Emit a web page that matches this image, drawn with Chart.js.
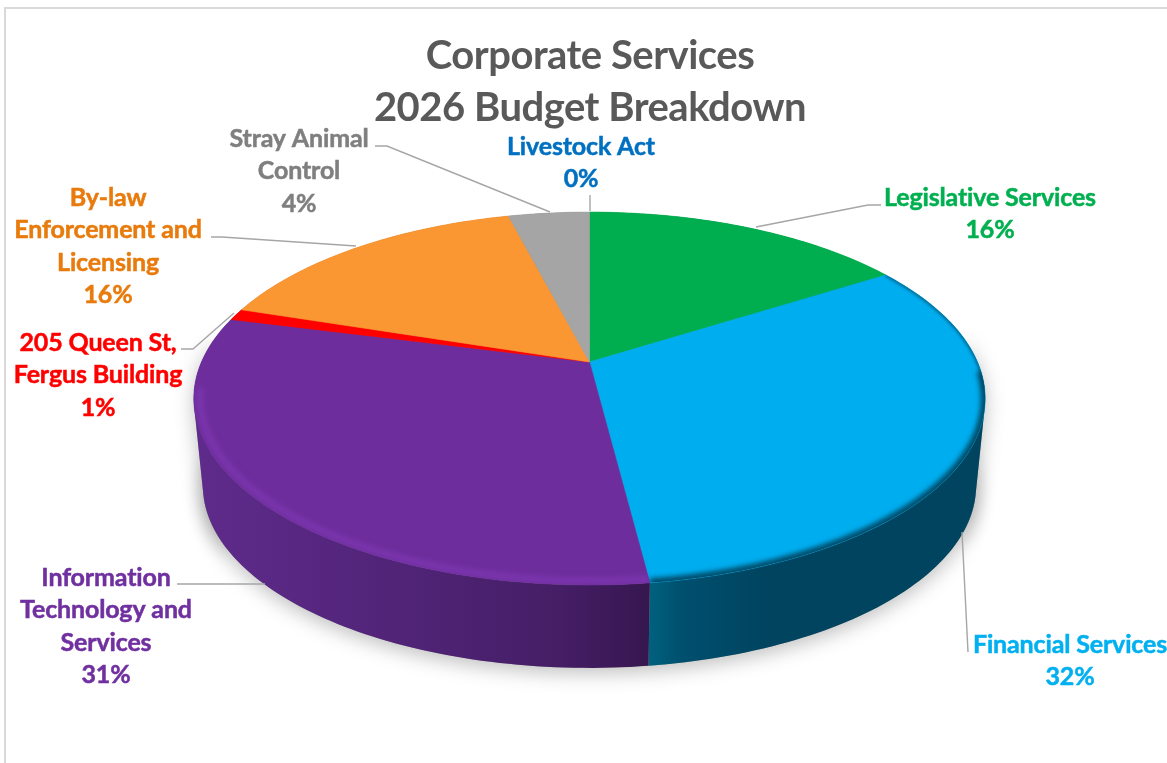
<!DOCTYPE html>
<html>
<head>
<meta charset="utf-8">
<title>Corporate Services 2026 Budget Breakdown</title>
<script src="https://cdn.jsdelivr.net/npm/chart.js@4"></script>
<style>
  html, body { margin: 0; padding: 0; background: #fff; overflow: hidden; }
  canvas { display: block; }
</style>
</head>
<body>
<canvas id="graficoPizza" width="1167" height="763"></canvas>
<script>
// series
const categorias = ['Legislative Services', 'Financial Services', 'Information Technology and Services', '205 Queen St, Fergus Building', 'By-law Enforcement and Licensing', 'Stray Animal Control', 'Livestock Act'];
const valores = [16, 32, 31, 1, 16, 4, 0];
const linhasTitulo = ['Corporate Services', '2026 Budget Breakdown'];

// how each category name wraps over its label
const quebras = [
    ['Legislative Services'],
    ['Financial Services'],
    ['Information', 'Technology and', 'Services'],
    ['205 Queen St,', 'Fergus Building'],
    ['By-law', 'Enforcement and', 'Licensing'],
    ['Stray Animal', 'Control'],
    ['Livestock Act']
];

// styles
const coresFatia = ['#00ae4f', '#00adef', '#6e2d9c', '#ff0000', '#fb9733', '#a5a5a5', '#0070c0'];
const coresTexto = ['#00b050', '#00b0f0', '#7030a0', '#ff0000', '#e87b0c', '#7f7f7f', '#0070c0'];
const paradasLateral = [
    [[0, '#007a40'], [1, '#007a40']],
    [[0, '#00617f'], [0.1, '#004f6e'], [0.35, '#00445f'], [1, '#00445f']],
    [[0, '#5f2b8c'], [0.5, '#4f2375'], [0.8, '#451e66'], [1, '#36174f']],
    [[0, '#a00000'], [1, '#a00000']],
    [[0, '#a8601c'], [1, '#a8601c']],
    [[0, '#6a6a6a'], [1, '#6a6a6a']],
    [[0, '#004a80'], [1, '#004a80']]
];

// label anchors: centre x, centre y of the first line
const posRotulos = [[990, 197.5], [1070, 644.5], [106, 577.5], [98, 342.5], [108, 197.5], [299, 138.5], [581, 146.5]];
const entreLinhas = 32.5;
const guias = [
    [[881, 205], [868, 205], [756, 227]],
    [[968, 652], [962, 532]],
    [[177, 584], [265, 584]],
    [[181, 349], [193, 349], [234, 313]],
    [[211, 237], [222, 237], [356, 246]],
    [[375, 146], [387, 146], [550, 212]],
    [[590, 195], [590, 211]]
];

// disc geometry on screen, seen in perspective from above
const centroX = 589.5, centroY = 362, raioX = 388, raioY = 179.3, persp = 0.196;
const escalaBase = 0.977, centroBaseY = 450;

function pontoTopo(u, v) {
    const w = 1 - persp * v;
    return [centroX + raioX * u / w, centroY + raioY * v / w];
}

function pontoBase(u, v) {
    const w = 1 - persp * v;
    return [centroX + escalaBase * raioX * u / w, centroBaseY + escalaBase * raioY * v / w];
}

function amostrarArco(inicio, fim, projetar, fator) {
    const n = Math.max(2, Math.ceil((fim - inicio) / 0.02));
    const pts = [];
    for (let i = 0; i <= n; i++) {
        const a = inicio + (fim - inicio) * i / n;
        pts.push(projetar(Math.cos(a) * (fator || 1), Math.sin(a) * (fator || 1)));
    }
    return pts;
}

function tracar(ctx, pts) {
    pts.forEach((p, i) => i ? ctx.lineTo(p[0], p[1]) : ctx.moveTo(p[0], p[1]));
}

// strip of quads between the two rims, all wound the same way so one fill covers it without seams
function tiraLateral(ctx, inicio, fim) {
    const topo = amostrarArco(inicio, fim, pontoTopo);
    const base = amostrarArco(inicio, fim, pontoBase);
    ctx.beginPath();
    for (let k = 0; k < topo.length - 1; k++) {
        const quad = [topo[k], topo[k + 1], base[k + 1], base[k]];
        let area = 0;
        quad.forEach((p, j) => {
            const q = quad[(j + 1) % 4];
            area += p[0] * q[1] - q[0] * p[1];
        });
        if (area < 0) quad.reverse();
        tracar(ctx, quad);
        ctx.closePath();
    }
    return topo.concat(base).map(p => p[0]);
}

function desenharSombra(ctx) {
    ctx.save();
    ctx.shadowColor = 'rgba(0,0,0,0.26)';
    ctx.shadowBlur = 20;
    ctx.shadowOffsetY = 5;
    ctx.fillStyle = '#999';
    ctx.beginPath();
    tracar(ctx, amostrarArco(0, Math.PI * 2, pontoBase));
    ctx.closePath();
    ctx.fill();
    tiraLateral(ctx, -0.15, 0.5);
    ctx.fill();
    tiraLateral(ctx, 2.6, 3.3);
    ctx.fill();
    ctx.restore();
}

function desenharLateral(ctx, arco, i) {
    if (arco.endAngle - arco.startAngle < 0.001) return;
    const xs = tiraLateral(ctx, arco.startAngle, arco.endAngle);
    const grad = ctx.createLinearGradient(Math.min(...xs), 0, Math.max(...xs), 0);
    paradasLateral[i].forEach(p => grad.addColorStop(p[0], p[1]));
    ctx.fillStyle = grad;
    ctx.fill();
}

function caminhoFatia(ctx, arco) {
    ctx.beginPath();
    ctx.moveTo(centroX, centroY);
    amostrarArco(arco.startAngle, arco.endAngle, pontoTopo).forEach(p => ctx.lineTo(p[0], p[1]));
    ctx.closePath();
}

// soft rim on the top face: light on the purple slice, dark on the blue one
function desenharBisel(ctx, arco, inicio, fim, cor, largura, desfoque, fator) {
    ctx.save();
    caminhoFatia(ctx, arco);
    ctx.clip();
    ctx.filter = `blur(${desfoque}px)`;
    ctx.strokeStyle = cor;
    ctx.lineWidth = largura;
    ctx.beginPath();
    tracar(ctx, amostrarArco(inicio, fim, pontoTopo, fator));
    ctx.stroke();
    ctx.restore();
}

const pluginPizza3d = {
    id: 'pizza3d',
    beforeDraw(chart) {
        const ctx = chart.ctx;
        ctx.letterSpacing = '-0.5px';
        ctx.save();
        ctx.strokeStyle = '#d9d9d9';
        ctx.lineWidth = 2;
        ctx.beginPath();
        ctx.moveTo(5, 763);
        ctx.lineTo(5, 8);
        ctx.lineTo(1167, 8);
        ctx.stroke();
        ctx.restore();
    },
    beforeDatasetsDraw(chart) {
        const ctx = chart.ctx;
        const arcos = chart.getDatasetMeta(0).data;
        ctx.save();
        desenharSombra(ctx);
        arcos.forEach((arco, i) => desenharLateral(ctx, arco, i));
        arcos.forEach(arco => {
            if (arco.endAngle - arco.startAngle < 0.001) return;
            caminhoFatia(ctx, arco);
            ctx.fillStyle = arco.options.backgroundColor;
            ctx.strokeStyle = arco.options.backgroundColor;
            ctx.lineWidth = 0.6;
            ctx.fill();
            ctx.stroke();
        });
        desenharBisel(ctx, arcos[1], arcos[1].startAngle, 0.15, 'rgba(0,75,104,0.7)', 3.5, 1.4, 1);
        desenharBisel(ctx, arcos[1], 0.05, arcos[1].endAngle, '#004b68', 9, 2.6, 1);
        desenharBisel(ctx, arcos[2], arcos[2].startAngle, 3.0, '#7a35ad', 7, 2.6, 0.985);
        ctx.restore();
        return false; // slices are fully painted above
    },
    afterDraw(chart) {
        const ctx = chart.ctx;
        ctx.save();
        ctx.strokeStyle = '#a6a6a6';
        ctx.lineWidth = 1.4;
        guias.forEach(g => {
            ctx.beginPath();
            tracar(ctx, g);
            ctx.stroke();
        });
        ctx.letterSpacing = '-0.15px';
        ctx.font = 'bold 25px Lato';
        ctx.textAlign = 'center';
        ctx.textBaseline = 'middle';
        ctx.lineWidth = 0.5;
        categorias.forEach((nome, i) => {
            const linhas = quebras[i].concat(valores[i] + '%');
            ctx.fillStyle = coresTexto[i];
            ctx.strokeStyle = coresTexto[i];
            linhas.forEach((l, k) => {
                const y = posRotulos[i][1] + k * entreLinhas;
                ctx.fillText(l, posRotulos[i][0], y);
                ctx.strokeText(l, posRotulos[i][0], y);
            });
        });
        ctx.restore();
    }
};

new Chart(document.getElementById('graficoPizza'), {
    type: 'pie',
    data: {
        labels: categorias,
        datasets: [{ data: valores, backgroundColor: coresFatia, borderWidth: 0 }]
    },
    options: {
        responsive: false,
        animation: false,
        layout: { padding: { left: 13, top: 30 } },
        plugins: {
            legend: { display: false },
            tooltip: { enabled: false },
            title: {
                display: true,
                text: linhasTitulo,
                color: '#595959',
                font: { family: 'Lato', size: 40, weight: 'bold', lineHeight: 1.3 },
                padding: 0
            }
        }
    },
    plugins: [pluginPizza3d]
});
</script>
</body>
</html>
